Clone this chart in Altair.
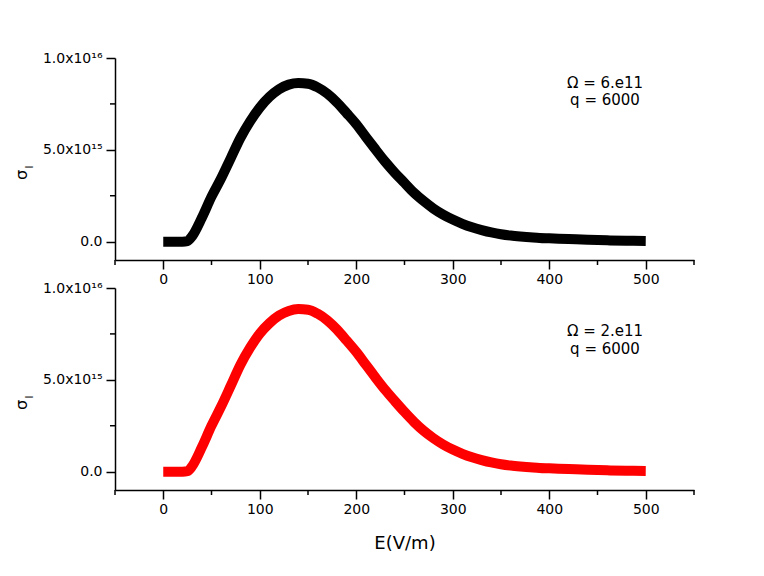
import json
import altair as alt
import pandas as pd

# ---- data ----
E_values = [0, 10, 20, 25, 30, 40, 50, 60, 70, 80, 90, 100, 110, 120, 130, 140, 150,
            160, 170, 180, 190, 200, 210, 220, 230, 240, 250, 260, 270, 280, 290, 300,
            310, 320, 330, 340, 350, 360, 370, 380, 390, 400, 420, 440, 460, 480, 500]

# sigma_I in units of 1e15
sigma_top = [0, 0, 0, 0.03, 0.3, 1.3, 2.45, 3.45, 4.55, 5.65, 6.55, 7.3, 7.88, 8.3, 8.55,
             8.64, 8.6, 8.4, 8.06, 7.58, 7.0, 6.4, 5.7, 5.02, 4.35, 3.75, 3.2, 2.65, 2.2,
             1.8, 1.47, 1.2, 0.97, 0.78, 0.63, 0.5, 0.4, 0.33, 0.28, 0.24, 0.2, 0.18,
             0.14, 0.1, 0.07, 0.05, 0.04]
sigma_bottom = [0, 0, 0, 0.03, 0.3, 1.33, 2.5, 3.55, 4.68, 5.82, 6.75, 7.52, 8.08, 8.5,
                8.75, 8.85, 8.82, 8.6, 8.24, 7.74, 7.14, 6.52, 5.82, 5.12, 4.45, 3.84,
                3.25, 2.7, 2.22, 1.82, 1.48, 1.2, 0.97, 0.78, 0.63, 0.5, 0.4, 0.33, 0.28,
                0.24, 0.2, 0.18, 0.14, 0.1, 0.07, 0.05, 0.04]
assert len(E_values) == len(sigma_top) == len(sigma_bottom)

omega_labels = ["\u03a9 = 6.e11", "\u03a9 = 2.e11"]
q_labels = ["q = 6000", "q = 6000"]
line_colors = ["#000000", "#ff0000"]

x_major = [0, 100, 200, 300, 400, 500]
x_minor = [-50, 50, 150, 250, 350, 450, 550]
y_major = [0, 5e15, 1e16]
y_major_labels = ["0.0", "5.0x10\u00b9\u2075", "1.0x10\u00b9\u2076"]
y_minor = [2.5e15, 7.5e15]

x_title = "E(V/m)"
y_title_main = "\u03c3"
y_title_sub = "I"

W, H = 579, 202
FONT = "DejaVu Sans"

xscale = alt.Scale(domain=[-50, 550], nice=False, zero=False)
yscale = alt.Scale(domain=[-1e15, 1e16], nice=False, zero=False)

label_expr = "{}[indexof({}, datum.value)]".format(json.dumps(y_major_labels), json.dumps(y_major))


def panel(sigma, color, omega_text, q_text, show_xtitle, ann_y):
    df = pd.DataFrame({"E": E_values, "sigma": [v * 1e15 for v in sigma]})
    xaxis_kw = dict(values=x_major, format="d", tickSize=9, labelPadding=3)
    if show_xtitle:
        xaxis_kw.update(title=x_title, titleFont=FONT, titleFontSize=18,
                        titleFontWeight="normal", titlePadding=18, titleColor="black")
    else:
        xaxis_kw.update(title="")
    xenc = alt.X("E:Q", scale=xscale, axis=alt.Axis(**xaxis_kw))
    yenc = alt.Y("sigma:Q", scale=yscale,
                 axis=alt.Axis(values=y_major, labelExpr=label_expr, tickSize=9,
                               labelPadding=4, title=""))
    line = alt.Chart(df).mark_line(color=color, strokeWidth=10, strokeJoin="round",
                                   interpolate="monotone").encode(x=xenc, y=yenc)
    xminor = alt.Chart(pd.DataFrame({"E": x_minor})).mark_rule(
        color="black", strokeWidth=1.5).encode(
        x=alt.X("E:Q", scale=xscale),
        y=alt.value(H), y2=alt.value(H + 5))
    yminor = alt.Chart(pd.DataFrame({"sigma": y_minor})).mark_rule(
        color="black", strokeWidth=1.5).encode(
        y=alt.Y("sigma:Q", scale=yscale),
        x=alt.value(-5), x2=alt.value(0))
    t_omega = alt.Chart(pd.DataFrame({"t": [omega_text]})).mark_text(
        font=FONT, fontSize=15, color="black", align="center", baseline="middle").encode(
        text="t:N", x=alt.value(490), y=alt.value(ann_y))
    t_q = alt.Chart(pd.DataFrame({"t": [q_text]})).mark_text(
        font=FONT, fontSize=15, color="black", align="center", baseline="middle").encode(
        text="t:N", x=alt.value(490), y=alt.value(ann_y + 17.5))
    t_sigma = alt.Chart(pd.DataFrame({"t": [y_title_main]})).mark_text(
        font=FONT, fontSize=16, color="black", angle=270, align="center",
        baseline="middle").encode(text="t:N", x=alt.value(-93.5), y=alt.value(117))
    t_sub = alt.Chart(pd.DataFrame({"t": [y_title_sub]})).mark_text(
        font=FONT, fontSize=10, color="black", angle=270, align="center",
        baseline="middle").encode(text="t:N", x=alt.value(-85), y=alt.value(109))
    return alt.layer(line, xminor, yminor, t_omega, t_q, t_sigma, t_sub).properties(
        width=W, height=H)


top = panel(sigma_top, line_colors[0], omega_labels[0], q_labels[0], False, 24.5)
bottom = panel(sigma_bottom, line_colors[1], omega_labels[1], q_labels[1], True, 43)

chart = alt.vconcat(top, bottom, spacing=28, bounds="flush").properties(
    padding={"left": 5, "top": 42, "right": 5, "bottom": 5},
    background="white",
).configure_view(stroke="transparent").configure_axis(
    grid=False, domainColor="black", domainWidth=1.5, tickColor="black", tickWidth=1.5,
    labelColor="black", labelFont=FONT, labelFontSize=14,
)

chart.save("out.html", embed_options={"renderer": "svg", "actions": False})
